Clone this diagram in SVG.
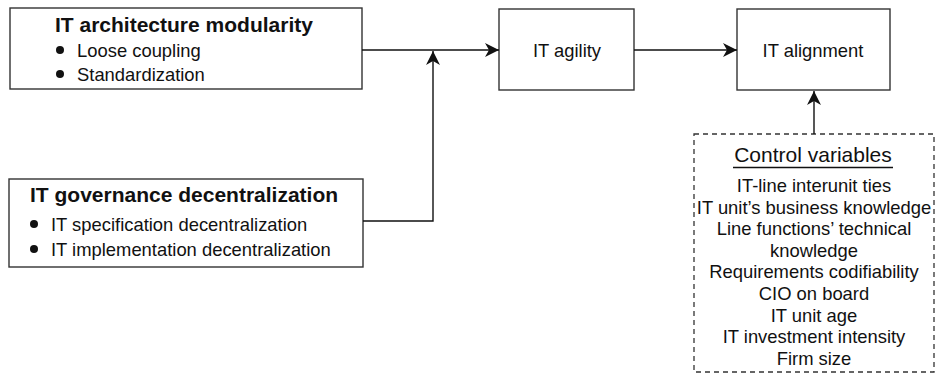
<svg xmlns="http://www.w3.org/2000/svg" width="935" height="384" viewBox="0 0 935 384">
<defs>
<style>
.box{fill:#fff;stroke:#333;stroke-width:1.4}
.dash{fill:none;stroke:#333;stroke-width:1.3;stroke-dasharray:5 4}
.t{font-family:"Liberation Sans",Arial,sans-serif;font-size:18.4px;fill:#111}
.b{font-family:"Liberation Sans",Arial,sans-serif;font-size:21px;font-weight:bold;fill:#111}
.c{font-family:"Liberation Sans",Arial,sans-serif;font-size:18.4px;fill:#111;text-anchor:middle}
.ln{fill:none;stroke:#111;stroke-width:1.4}
.dot{fill:#111}
</style>
<marker id="ah" markerUnits="userSpaceOnUse" markerWidth="16" markerHeight="16" refX="14" refY="7" orient="auto">
<path d="M0,0 L14,7 L0,14 L4,7 Z" fill="#111"/>
</marker>
</defs>
<g id="node-modularity">
<rect class="box" x="10" y="8" width="352" height="81"/>
<text class="b" x="55" y="32">IT architecture modularity</text>
<circle class="dot" cx="60" cy="50" r="4"/>
<text class="t" x="77" y="57">Loose coupling</text>
<circle class="dot" cx="60" cy="74" r="4"/>
<text class="t" x="77" y="81">Standardization</text>
</g>
<g id="node-governance">
<rect class="box" x="9" y="179" width="354" height="88"/>
<text class="b" x="30" y="202">IT governance decentralization</text>
<circle class="dot" cx="34" cy="224" r="4"/>
<text class="t" x="51" y="231">IT specification decentralization</text>
<circle class="dot" cx="34" cy="249" r="4"/>
<text class="t" x="51" y="256">IT implementation decentralization</text>
</g>
<g id="node-agility">
<rect class="box" x="499" y="9" width="135" height="81"/>
<text class="c" x="567" y="57">IT agility</text>
</g>
<g id="node-alignment">
<rect class="box" x="737" y="9" width="153" height="81"/>
<text class="c" x="813" y="57">IT alignment</text>
</g>
<g id="node-controls">
<rect class="dash" x="694" y="134" width="240" height="238"/>
<text class="c" x="813" y="162" style="font-size:21px">Control variables</text>
<line x1="733" y1="167.5" x2="893" y2="167.5" stroke="#111" stroke-width="1.3"/>
<text class="c" x="814" y="192">IT-line interunit ties</text>
<text class="c" x="814" y="213.6">IT unit’s business knowledge</text>
<text class="c" x="814" y="235.2">Line functions’ technical</text>
<text class="c" x="814" y="256.8">knowledge</text>
<text class="c" x="814" y="278.4">Requirements codifiability</text>
<text class="c" x="814" y="300">CIO on board</text>
<text class="c" x="814" y="321.6">IT unit age</text>
<text class="c" x="814" y="343.2">IT investment intensity</text>
<text class="c" x="814" y="364.8">Firm size</text>
</g>
<g id="connectors">
<line class="ln" x1="362" y1="50" x2="499" y2="50" marker-end="url(#ah)"/>
<polyline class="ln" points="363,221 433,221 433,51" marker-end="url(#ah)"/>
<line class="ln" x1="634" y1="50" x2="737" y2="50" marker-end="url(#ah)"/>
<line class="ln" x1="814" y1="134" x2="814" y2="91" marker-end="url(#ah)"/>
</g>
</svg>
